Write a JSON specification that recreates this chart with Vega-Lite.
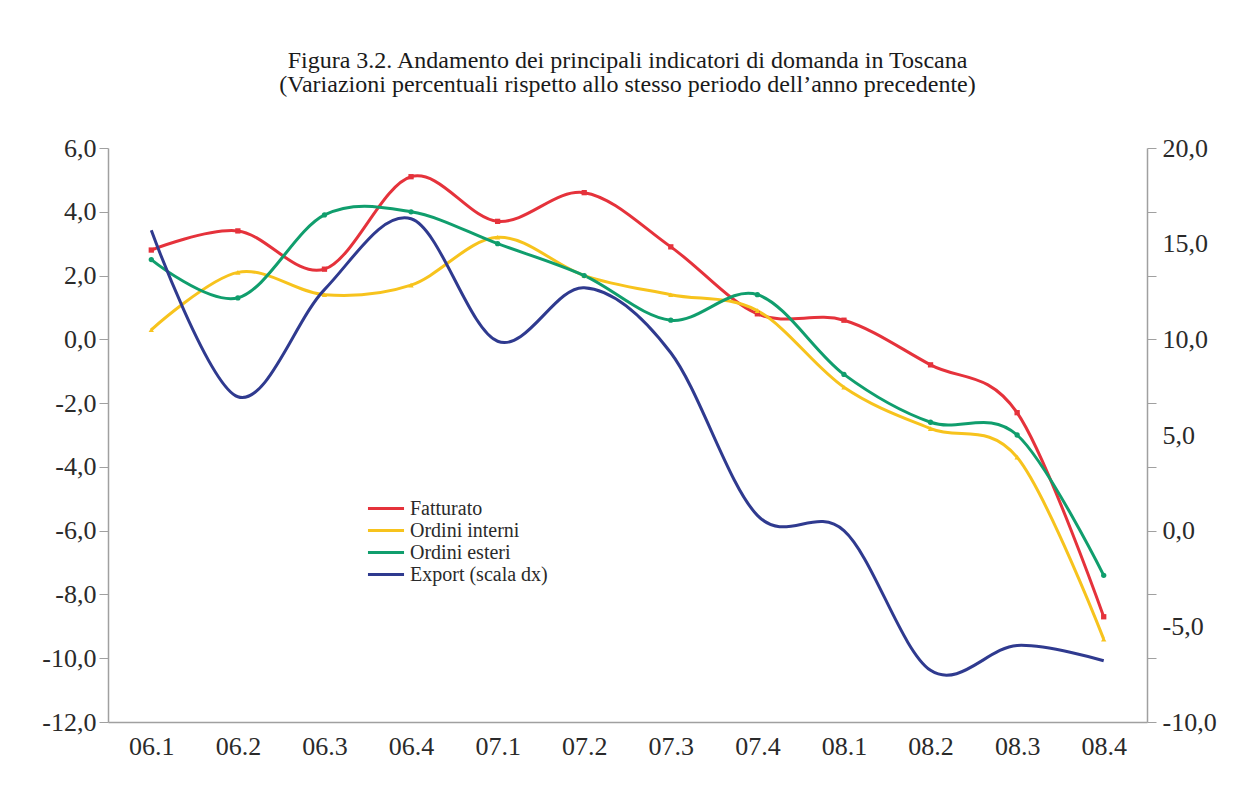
{
  "$schema": "https://vega.github.io/schema/vega-lite/v6.json",
  "width": 1039,
  "height": 574,
  "autosize": {"type": "none"},
  "padding": {"left": 108, "top": 148, "right": 97, "bottom": 67},
  "background": "white",
  "title": {
    "text": [
      "Figura 3.2. Andamento dei principali indicatori di domanda in Toscana",
      "(Variazioni percentuali rispetto allo stesso periodo dell’anno precedente)"
    ],
    "font": "Liberation Serif",
    "fontSize": 24,
    "fontWeight": "normal",
    "color": "#1a1a1a",
    "lineHeight": 24,
    "anchor": "middle",
    "offset": 38
  },
  "data": {
    "values": [
      {"q": "06.1", "serie": "Fatturato", "v": 2.8},
      {"q": "06.2", "serie": "Fatturato", "v": 3.4},
      {"q": "06.3", "serie": "Fatturato", "v": 2.2},
      {"q": "06.4", "serie": "Fatturato", "v": 5.1},
      {"q": "07.1", "serie": "Fatturato", "v": 3.7},
      {"q": "07.2", "serie": "Fatturato", "v": 4.6},
      {"q": "07.3", "serie": "Fatturato", "v": 2.9},
      {"q": "07.4", "serie": "Fatturato", "v": 0.8},
      {"q": "08.1", "serie": "Fatturato", "v": 0.6},
      {"q": "08.2", "serie": "Fatturato", "v": -0.8},
      {"q": "08.3", "serie": "Fatturato", "v": -2.3},
      {"q": "08.4", "serie": "Fatturato", "v": -8.7},
      {"q": "06.1", "serie": "Ordini interni", "v": 0.3},
      {"q": "06.2", "serie": "Ordini interni", "v": 2.1},
      {"q": "06.3", "serie": "Ordini interni", "v": 1.4},
      {"q": "06.4", "serie": "Ordini interni", "v": 1.7},
      {"q": "07.1", "serie": "Ordini interni", "v": 3.2},
      {"q": "07.2", "serie": "Ordini interni", "v": 2.0},
      {"q": "07.3", "serie": "Ordini interni", "v": 1.4},
      {"q": "07.4", "serie": "Ordini interni", "v": 0.9},
      {"q": "08.1", "serie": "Ordini interni", "v": -1.5},
      {"q": "08.2", "serie": "Ordini interni", "v": -2.8},
      {"q": "08.3", "serie": "Ordini interni", "v": -3.7},
      {"q": "08.4", "serie": "Ordini interni", "v": -9.4},
      {"q": "06.1", "serie": "Ordini esteri", "v": 2.5},
      {"q": "06.2", "serie": "Ordini esteri", "v": 1.3},
      {"q": "06.3", "serie": "Ordini esteri", "v": 3.9},
      {"q": "06.4", "serie": "Ordini esteri", "v": 4.0},
      {"q": "07.1", "serie": "Ordini esteri", "v": 3.0},
      {"q": "07.2", "serie": "Ordini esteri", "v": 2.0},
      {"q": "07.3", "serie": "Ordini esteri", "v": 0.6},
      {"q": "07.4", "serie": "Ordini esteri", "v": 1.4},
      {"q": "08.1", "serie": "Ordini esteri", "v": -1.1},
      {"q": "08.2", "serie": "Ordini esteri", "v": -2.6},
      {"q": "08.3", "serie": "Ordini esteri", "v": -3.0},
      {"q": "08.4", "serie": "Ordini esteri", "v": -7.4},
      {"q": "06.1", "serie": "Export (scala dx)", "v": 15.7},
      {"q": "06.2", "serie": "Export (scala dx)", "v": 7.0},
      {"q": "06.3", "serie": "Export (scala dx)", "v": 12.6},
      {"q": "06.4", "serie": "Export (scala dx)", "v": 16.3},
      {"q": "07.1", "serie": "Export (scala dx)", "v": 9.9},
      {"q": "07.2", "serie": "Export (scala dx)", "v": 12.7},
      {"q": "07.3", "serie": "Export (scala dx)", "v": 9.3},
      {"q": "07.4", "serie": "Export (scala dx)", "v": 0.8},
      {"q": "08.1", "serie": "Export (scala dx)", "v": 0.0},
      {"q": "08.2", "serie": "Export (scala dx)", "v": -7.3},
      {"q": "08.3", "serie": "Export (scala dx)", "v": -6.0},
      {"q": "08.4", "serie": "Export (scala dx)", "v": -6.8}
    ]
  },
  "encoding": {
    "x": {
      "field": "q",
      "type": "ordinal",
      "scale": {"type": "point", "padding": 0.5},
      "axis": {
        "title": null,
        "labelAngle": 0,
        "ticks": false,
        "labelPadding": 11,
        "labelFont": "Liberation Serif",
        "labelFontSize": 26,
        "labelColor": "#2a2a2a",
        "domainColor": "#a0a0a0",
        "domainWidth": 1.5
      }
    },
    "color": {
      "field": "serie",
      "type": "nominal",
      "scale": {
        "domain": ["Fatturato", "Ordini interni", "Ordini esteri", "Export (scala dx)"],
        "range": ["#e5323b", "#f7c31d", "#109e6d", "#2f3a8f"]
      },
      "legend": {
        "title": null,
        "orient": "none",
        "legendX": 258,
        "legendY": 352,
        "symbolType": "stroke",
        "symbolSize": 1300,
        "symbolStrokeWidth": 3,
        "clipHeight": 17,
        "labelFont": "Liberation Serif",
        "labelFontSize": 20,
        "labelColor": "#2a2a2a",
        "rowPadding": 1,
        "labelOffset": 4
      }
    }
  },
  "layer": [
    {
      "transform": [{"filter": "datum.serie !== 'Export (scala dx)'"}],
      "encoding": {
        "y": {
          "field": "v",
          "type": "quantitative",
          "scale": {"domain": [-12, 6], "nice": false, "zero": false},
          "axis": {
            "title": null,
            "orient": "left",
            "values": [-12, -10, -8, -6, -4, -2, 0, 2, 4, 6],
            "format": ".1f",
            "grid": false,
            "tickSize": 9,
            "tickColor": "#a0a0a0",
            "domainColor": "#a0a0a0",
            "domainWidth": 1.5,
            "labelFont": "Liberation Serif",
            "labelFontSize": 26,
            "labelColor": "#2a2a2a",
            "labelPadding": 3
          }
        }
      },
      "layer": [
        {
          "mark": {"type": "line", "interpolate": "cardinal", "strokeWidth": 3}
        },
        {
          "mark": {"type": "point", "filled": true, "size": 28, "opacity": 1},
          "encoding": {
            "shape": {
              "field": "serie",
              "type": "nominal",
              "scale": {
                "domain": ["Fatturato", "Ordini interni", "Ordini esteri"],
                "range": ["square", "triangle-up", "circle"]
              },
              "legend": null
            }
          }
        }
      ]
    },
    {
      "transform": [{"filter": "datum.serie === 'Export (scala dx)'"}],
      "mark": {"type": "line", "interpolate": "cardinal", "strokeWidth": 3},
      "encoding": {
        "y": {
          "field": "v",
          "type": "quantitative",
          "scale": {"domain": [-10, 20], "nice": false, "zero": false},
          "axis": {
            "title": null,
            "orient": "right",
            "values": [20, 16.6667, 15, 13.3333, 10, 6.6667, 5, 3.3333, 0, -3.3333, -5, -6.6667, -10],
            "labelExpr": "abs(datum.value % 5) < 0.001 ? format(datum.value, '.1f') : ''",
            "tickOpacity": {"condition": {"test": "abs(datum.value % 5) < 0.001 && abs(datum.value % 10) > 0.001", "value": 0}, "value": 1},
            "grid": false,
            "tickSize": 9,
            "tickColor": "#a0a0a0",
            "domainColor": "#a0a0a0",
            "domainWidth": 1.5,
            "labelFont": "Liberation Serif",
            "labelFontSize": 26,
            "labelColor": "#2a2a2a",
            "labelPadding": 6
          }
        }
      }
    }
  ],
  "resolve": {"scale": {"y": "independent"}},
  "config": {
    "locale": {
      "number": {
        "decimal": ",",
        "thousands": ".",
        "grouping": [3],
        "currency": ["€", ""],
        "minus": "-"
      }
    },
    "view": {"stroke": null}
  }
}
